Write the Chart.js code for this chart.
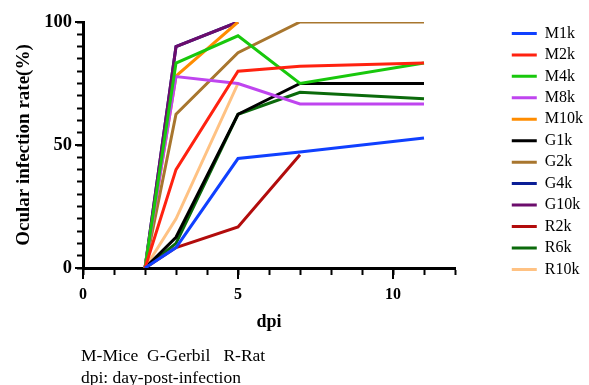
<!DOCTYPE html>
<html>
<head>
<meta charset="utf-8">
<script src="https://cdn.jsdelivr.net/npm/chart.js@4.4.1/dist/chart.umd.min.js"></script>
<style>
  body { margin: 0; background: #fff; }
  #wrap { position: relative; width: 589px; height: 385px; }
  #note {
    position: absolute; left: 81px; top: 344px;
    font: 17.5px "Liberation Serif", serif; line-height: 22px; color: #000;
    white-space: pre;
  }
</style>
</head>
<body>
<div id="wrap">
  <canvas id="myChart" width="589" height="385"></canvas>
  <div id="note">M-Mice  G-Gerbil   R-Rat
dpi: day-post-infection</div>
</div>
<script>
// days post infection
var dpi = [2, 3, 5, 7, 11];

// infection rate (%) per group, null = not measured
var M1k  = [0, 8.3, 44.5, 47.2, 52.8];
var M2k  = [0, 40, 80, 82, 83.3];
var M4k  = [0, 83.3, 94.4, 75, 83.3];
var M8k  = [0, 77.8, 75, 66.7, 66.7];
var M10k = [0, 78, 100, null, null];
var G1k  = [0, 12.5, 62.5, 75, 75];
var G2k  = [0, 62.5, 87.5, 100, 100];
var G4k  = [0, 90, 100, null, null];
var G10k = [0, 90, 100, null, null];
var R2k  = [0, 8.3, 16.7, 46, null];
var R6k  = [0, 10, 62.5, 71.4, 68.8];
var R10k = [0, 20, 75, null, null];

var xTicks = [0, 5, 10];
var yTicks = [0, 50, 100];

function series(label, vals, color, order) {
  return {
    label: label,
    data: dpi.map(function (d, i) { return { x: d, y: vals[i] }; }).filter(function (p) { return p.y !== null; }),
    borderColor: color,
    backgroundColor: color,
    borderWidth: 3,
    pointRadius: 0,
    pointHitRadius: 6,
    tension: 0,
    order: order || 0
  };
}

// longer major ticks, like the original
var majorTicks = {
  id: 'majorTicks',
  afterDraw: function (chart) {
    var c = chart.ctx, xs = chart.scales.x, ys = chart.scales.y;
    var a = chart.chartArea;
    c.save();
    c.strokeStyle = '#000';
    c.lineWidth = 2;
    xTicks.forEach(function (v) {
      var px = xs.getPixelForValue(v);
      c.beginPath(); c.moveTo(px, a.bottom); c.lineTo(px, a.bottom + 11); c.stroke();
    });
    yTicks.forEach(function (v) {
      var py = ys.getPixelForValue(v);
      c.beginPath(); c.moveTo(a.left, py); c.lineTo(a.left - 8, py); c.stroke();
    });
    c.restore();
  }
};

// push the legend to the right edge of the canvas
var legendRight = {
  id: 'legendRight',
  afterLayout: function (chart) {
    var l = chart.legend;
    l.left = chart.width - l.width + 4;
    l.right = l.left + l.width;
    l.top -= 2;
    l.bottom -= 2;
  }
};

var ctx = document.getElementById('myChart');
var myChart = new Chart(ctx, {
  type: 'line',
  data: {
    datasets: [
      series('M1k', M1k, '#1040ff'),
      series('M2k', M2k, '#ff2210'),
      series('M4k', M4k, '#18c80c'),
      series('M8k', M8k, '#bf45ef'),
      series('M10k', M10k, '#ff8c00'),
      series('G1k', G1k, '#000000'),
      series('G2k', G2k, '#a8762e'),
      series('G4k', G4k, '#0a1e96', 1),
      series('G10k', G10k, '#6c0d6c'),
      series('R2k', R2k, '#b20c0c'),
      series('R6k', R6k, '#0b6a0b'),
      series('R10k', R10k, '#ffc283')
    ]
  },
  options: {
    responsive: false,
    animation: false,
    layout: { padding: { top: 22, left: 0, right: 0, bottom: 47 } },
    plugins: {
      tooltip: { enabled: false },
      legend: {
        position: 'right',
        align: 'start',
        labels: {
          usePointStyle: true,
          pointStyle: 'line',
          pointStyleWidth: 25,
          boxHeight: 16,
          padding: 5.45,
          color: '#000',
          font: { family: 'Liberation Serif', size: 16 },
          sort: function (a, b) { return a.datasetIndex - b.datasetIndex; }
        }
      }
    },
    scales: {
      x: {
        type: 'linear',
        min: 0, max: 12,
        afterFit: function (s) { s.paddingRight = 134; s.height = 70; },
        border: { color: '#000', width: 3 },
        grid: { drawOnChartArea: false, tickLength: 7, tickWidth: 2, tickColor: '#000' },
        ticks: {
          stepSize: 1, autoSkip: false, maxRotation: 0, padding: 10, color: '#000',
          font: { family: 'Liberation Serif', size: 16, weight: 'bold' },
          callback: function (v) { return xTicks.indexOf(v) >= 0 ? String(v) : ''; }
        },
        title: {
          display: true, text: 'dpi', color: '#000', padding: { top: 0, bottom: 5 },
          font: { family: 'Liberation Serif', size: 18, weight: 'bold' }
        }
      },
      y: {
        min: 0, max: 100,
        afterFit: function (s) { s.width = 83; },
        border: { color: '#000', width: 3 },
        grid: { drawOnChartArea: false, tickLength: 6, tickWidth: 2, tickColor: '#000' },
        ticks: {
          stepSize: 5, autoSkip: false, padding: 5, color: '#000',
          font: { family: 'Liberation Serif', size: 18.5, weight: 'bold' },
          callback: function (v) { return yTicks.indexOf(v) >= 0 ? String(v) : ''; }
        },
        title: {
          display: true, text: 'Ocular infection rate(%)', color: '#000', padding: { top: 13, bottom: 0 },
          font: { family: 'Liberation Serif', size: 19, weight: 'bold' }
        }
      }
    }
  },
  plugins: [majorTicks, legendRight]
});
</script>
</body>
</html>
